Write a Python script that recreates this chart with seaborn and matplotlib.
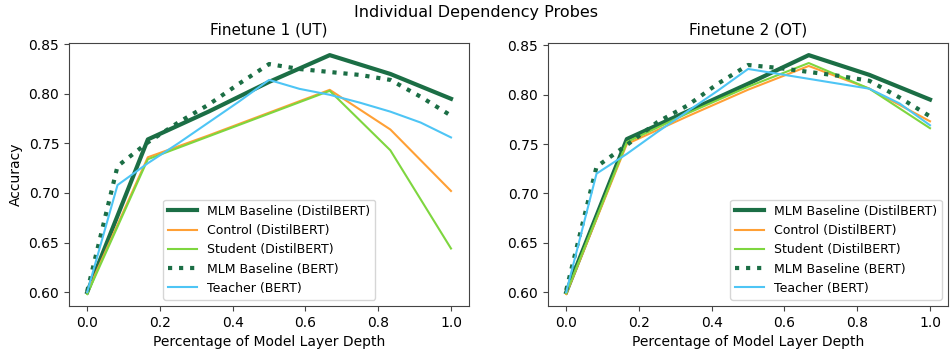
import numpy as np
import matplotlib.pyplot as plt
import seaborn as sns

plt.switch_backend('agg')

# layer depth (fraction): DistilBERT has 6 layers, BERT has 12
depth_distil = [0.0, 1/6, 2/6, 3/6, 4/6, 5/6, 1.0]
depth_bert = [i / 12 for i in range(13)]

# Finetune 1 (UT)
ut_mlm_distil = [0.600, 0.754, 0.782, 0.812, 0.839, 0.820, 0.795]
ut_control = [0.600, 0.736, 0.758, 0.781, 0.804, 0.764, 0.702]
ut_student = [0.598, 0.734, 0.757, 0.780, 0.803, 0.743, 0.644]
ut_mlm_bert = [0.601, 0.727, 0.751, 0.771, 0.789, 0.810, 0.830, 0.825,
               0.822, 0.819, 0.814, 0.797, 0.778]
ut_teacher = [0.600, 0.708, 0.730, 0.750, 0.771, 0.792, 0.814, 0.805,
              0.799, 0.791, 0.782, 0.771, 0.756]

# Finetune 2 (OT)
ot_mlm_distil = [0.600, 0.755, 0.783, 0.811, 0.840, 0.820, 0.795]
ot_control = [0.598, 0.750, 0.778, 0.805, 0.829, 0.806, 0.773]
ot_student = [0.599, 0.752, 0.781, 0.808, 0.832, 0.806, 0.766]
ot_mlm_bert = [0.602, 0.727, 0.749, 0.772, 0.789, 0.811, 0.830, 0.827,
               0.823, 0.819, 0.814, 0.797, 0.778]
ot_teacher = [0.600, 0.720, 0.740, 0.762, 0.783, 0.804, 0.826, 0.821,
              0.816, 0.811, 0.806, 0.791, 0.769]

dark_green = '#1b6e45'
orange = '#ffa035'
light_green = '#7ed63f'
light_blue = '#4ec5f5'


def draw_panel(ax, mlm_d, ctrl, stud, mlm_b, teach, title, legend_loc):
    sns.lineplot(x=depth_distil, y=mlm_d, ax=ax, color=dark_green, linewidth=3.0,
                 label='MLM Baseline (DistilBERT)')
    sns.lineplot(x=depth_distil, y=ctrl, ax=ax, color=orange, linewidth=1.5,
                 label='Control (DistilBERT)')
    sns.lineplot(x=depth_distil, y=stud, ax=ax, color=light_green, linewidth=1.5,
                 label='Student (DistilBERT)')
    sns.lineplot(x=depth_bert, y=mlm_b, ax=ax, color=dark_green, linewidth=3.0,
                 linestyle=':', label='MLM Baseline (BERT)')
    sns.lineplot(x=depth_bert, y=teach, ax=ax, color=light_blue, linewidth=1.5,
                 label='Teacher (BERT)')
    ax.set_title(title, fontsize=11)
    ax.set_xlabel('Percentage of Model Layer Depth', fontsize=10)
    ax.legend(loc=legend_loc, fontsize=9, handlelength=2.3)
    for sp in ax.spines.values():
        sp.set_color('#444444')
    ax.tick_params(color='#444444')


fig, axes = plt.subplots(1, 2, figsize=(9.52, 3.51), dpi=100)
draw_panel(axes[0], ut_mlm_distil, ut_control, ut_student, ut_mlm_bert, ut_teacher,
           'Finetune 1 (UT)', 'lower center')
draw_panel(axes[1], ot_mlm_distil, ot_control, ot_student, ot_mlm_bert, ot_teacher,
           'Finetune 2 (OT)', 'lower right')
axes[0].set_ylabel('Accuracy', fontsize=10)
fig.suptitle('Individual Dependency Probes', fontsize=11.5, y=0.985)
fig.subplots_adjust(left=0.0725, right=0.996, top=0.877, bottom=0.128, wspace=0.197)
fig.savefig('out.png')
